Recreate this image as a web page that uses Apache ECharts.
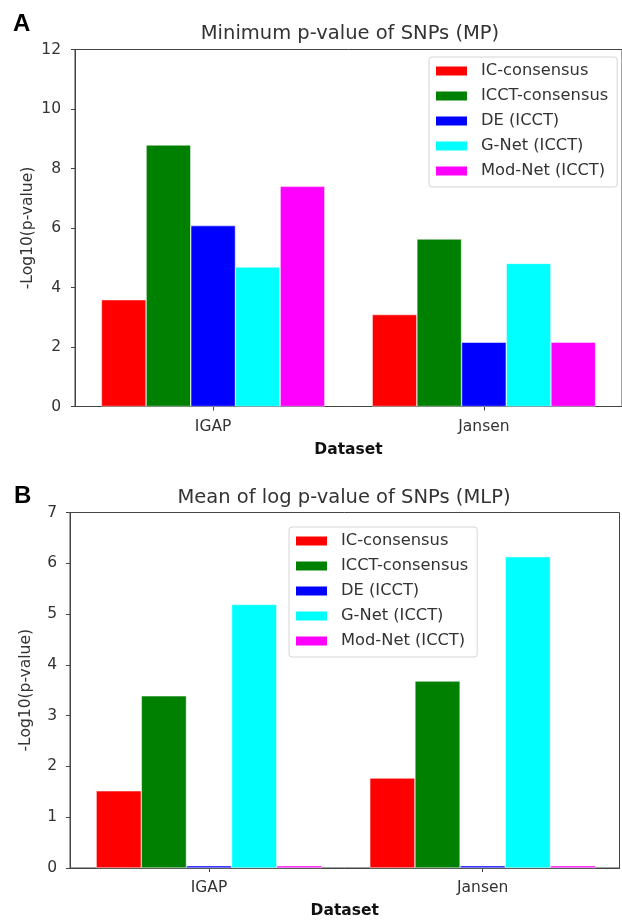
<!DOCTYPE html>
<html>
<head>
<meta charset="utf-8">
<script src="https://cdn.jsdelivr.net/npm/echarts@6/dist/echarts.min.js"></script>
<style>
html,body{margin:0;padding:0;background:#fff;}
#chart{width:622px;height:920px;}
</style>
</head>
<body>
<div id="chart"></div>
<script>
// ---- data ----
const categories = ['IGAP', 'Jansen'];
const seriesNames = ['IC-consensus', 'ICCT-consensus', 'DE (ICCT)', 'G-Net (ICCT)', 'Mod-Net (ICCT)'];
const seriesColors = ['#ff0000', '#008000', '#0000ff', '#00ffff', '#ff00ff'];

// Panel A: Minimum p-value of SNPs (MP)
const mpIC = [3.59, 3.09];
const mpICCT = [8.79, 5.63];
const mpDE = [6.08, 2.16];
const mpGNet = [4.69, 4.81];
const mpModNet = [7.40, 2.16];

// Panel B: Mean of log p-value of SNPs (MLP)
const mlpIC = [1.52, 1.77];
const mlpICCT = [3.39, 3.68];
const mlpDE = [0.045, 0.045];
const mlpGNet = [5.19, 6.13];
const mlpModNet = [0.045, 0.045];

const mpTicks = [0, 2, 4, 6, 8, 10, 12];
const mlpTicks = [0, 1, 2, 3, 4, 5, 6, 7];

const titleA = 'Minimum p-value of SNPs (MP)';
const titleB = 'Mean of log p-value of SNPs (MLP)';
const yName = '-Log10(p-value)';
const xName = 'Dataset';

// ---- chart ----
const FONT = 'DejaVu Sans';
const TXT = '#333';
const LINE = '#444';
const chart = echarts.init(document.getElementById('chart'), null, {renderer: 'canvas'});

const mpSets = [mpIC, mpICCT, mpDE, mpGNet, mpModNet];
const mlpSets = [mlpIC, mlpICCT, mlpDE, mlpGNet, mlpModNet];
const catIdx = categories.map((c, i) => i);

function xAxisFor(gridIndex, min, max) {
  return {
    type: 'value', gridIndex: gridIndex, min: min, max: max,
    name: xName, nameLocation: 'middle', nameGap: 35, nameMoveOverlap: false,
    nameTextStyle: {fontFamily: FONT, fontSize: 15.5, fontWeight: 'bold', color: '#111'},
    axisLine: {show: true, onZero: false, lineStyle: {color: LINE, width: 1}},
    axisTick: {show: true, customValues: catIdx, length: 4, lineStyle: {color: LINE}},
    axisLabel: {customValues: catIdx, margin: 12, fontFamily: FONT, fontSize: 15.5, color: TXT,
      formatter: v => categories[Math.round(v)]},
    splitLine: {show: false}
  };
}
function yAxisFor(gridIndex, ticks, labelMargin, nameGap) {
  return {
    type: 'value', gridIndex: gridIndex, min: ticks[0], max: ticks[ticks.length - 1],
    interval: ticks[1] - ticks[0],
    name: yName, nameLocation: 'middle', nameGap: nameGap, nameMoveOverlap: false,
    nameTextStyle: {fontFamily: FONT, fontSize: 15.5, color: TXT},
    axisLine: {show: true, onZero: false, lineStyle: {color: LINE, width: 1}},
    axisTick: {show: true, length: 4, lineStyle: {color: LINE}},
    axisLabel: {margin: labelMargin, fontFamily: FONT, fontSize: 15.5, color: TXT},
    splitLine: {show: false}
  };
}
function legendFor(left, top) {
  return {
    orient: 'vertical', left: left, top: top,
    data: seriesNames, icon: 'rect', itemWidth: 31, itemHeight: 9, itemGap: 9,
    padding: [6, 9, 8, 7],
    borderColor: '#d4d4d4', borderWidth: 1, borderRadius: 3,
    backgroundColor: 'rgba(255,255,255,0.85)',
    itemStyle: {borderWidth: 0},
    textStyle: {fontFamily: FONT, fontSize: 16.3, color: TXT, padding: [0, 0, 0, 9]},
    selectedMode: false
  };
}
function barSeries(sets, axisIndex) {
  return sets.map((vals, s) => ({
    type: 'bar', name: seriesNames[s], xAxisIndex: axisIndex, yAxisIndex: axisIndex,
    data: catIdx.map(i => [i, vals[i]]),
    barWidth: '16.5%', barGap: '0%',
    itemStyle: {color: seriesColors[s], borderColor: '#ffffff', borderWidth: 0.5},
    emphasis: {disabled: true},
    animation: false
  }));
}

const option = {
  backgroundColor: '#ffffff',
  animation: false,
  title: [
    {text: titleA, left: 350, top: 24, padding: 0, textAlign: 'center',
     textStyle: {fontFamily: FONT, fontSize: 19.5, fontWeight: 'normal', color: TXT}},
    {text: titleB, left: 344, top: 488, padding: 0, textAlign: 'center',
     textStyle: {fontFamily: FONT, fontSize: 19.5, fontWeight: 'normal', color: TXT}},
    {text: 'A', left: 13, top: 12, padding: 0,
     textStyle: {fontFamily: 'Liberation Sans', fontSize: 24, fontWeight: 'bold', color: '#000'}},
    {text: 'B', left: 14, top: 484, padding: 0,
     textStyle: {fontFamily: 'Liberation Sans', fontSize: 24, fontWeight: 'bold', color: '#000'}}
  ],
  legend: [legendFor(429, 57), legendFor(289, 527)],
  grid: [
    {left: 75, top: 49.5, width: 551, height: 357, show: true, borderColor: LINE, borderWidth: 1, backgroundColor: 'transparent'},
    {left: 70, top: 512.5, width: 549.5, height: 357.5, show: true, borderColor: LINE, borderWidth: 1, backgroundColor: 'transparent'}
  ],
  xAxis: [xAxisFor(0, -0.51, 1.51), xAxisFor(1, -0.508, 1.5)],
  yAxis: [yAxisFor(0, mpTicks, 14, 39), yAxisFor(1, mlpTicks, 13, 36)],
  series: barSeries(mpSets, 0).concat(barSeries(mlpSets, 1))
};
chart.setOption(option);
</script>
</body>
</html>
